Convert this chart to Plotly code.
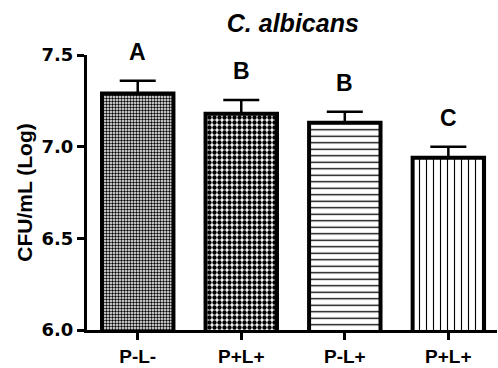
import plotly.graph_objects as go

categories = ["P-L-", "P+L+", "P-L+", "P+L+ "]
tick_labels = ["P-L-", "P+L+", "P-L+", "P+L+"]
means = [7.29, 7.18, 7.13, 6.94]
errors = [0.07, 0.075, 0.06, 0.06]
letters = ["A", "B", "B", "C"]
shapes = [".", ".", "-", "|"]
sizes = [3, 5, 6.5, 7]
solid = [0.5, 0.6, 0.2, 0.16]

FONT = "Liberation Sans, Arial, sans-serif"
WIDE = "DejaVu Sans, sans-serif"

fig = go.Figure()
fig.add_trace(go.Bar(
    x=categories, y=means,
    width=0.69,
    marker=dict(
        color="white",
        line=dict(color="black", width=4),
        pattern=dict(shape=shapes, size=sizes, solidity=solid,
                     fgcolor="black", bgcolor="white", fillmode="replace"),
    ),
    error_y=dict(type="data", array=errors, arrayminus=[0]*len(errors),
                 symmetric=False, color="black", thickness=2.5, width=18),
    showlegend=False,
    hoverinfo="skip",
))

for c, m, e, l in zip(categories, means, errors, letters):
    fig.add_annotation(x=c, y=m + e, text=l, showarrow=False, yanchor="middle",
                       yshift=29, font=dict(family=FONT, size=23, color="black", weight="bold"))

fig.update_layout(
    width=498, height=368,
    margin=dict(l=87, r=1, t=55, b=35),
    paper_bgcolor="white", plot_bgcolor="white",
    title=dict(text="C. albicans", x=0.588, xanchor="center", y=0.9375, yanchor="middle",
               font=dict(family=FONT, size=25, color="black", weight="bold", style="italic")),
)
fig.update_xaxes(
    range=[-0.49, 3.47], tickvals=categories, ticktext=tick_labels,
    showline=True, linecolor="black", linewidth=3, ticks="outside", ticklen=7,
    tickwidth=3, tickcolor="black", showgrid=False, zeroline=False,
    tickfont=dict(family=FONT, size=19, color="black", weight="bold"),
)
fig.update_yaxes(
    range=[6.0, 7.5], tickvals=[6.0, 6.5, 7.0, 7.5], ticktext=["6.0", "6.5", "7.0", "7.5"],
    showline=True, linecolor="black", linewidth=3, ticks="outside", ticklen=7,
    tickwidth=3, tickcolor="black", showgrid=False, zeroline=False,
    tickfont=dict(family=WIDE, size=18, color="black", weight="bold"),
    title=dict(text="CFU/mL (Log)", standoff=4,
               font=dict(family=FONT, size=21, color="black", weight="bold")),
)

fig.write_html("out.html", config={"displayModeBar": False},
               post_script="document.body.style.margin='0';document.body.style.overflow='hidden';")
